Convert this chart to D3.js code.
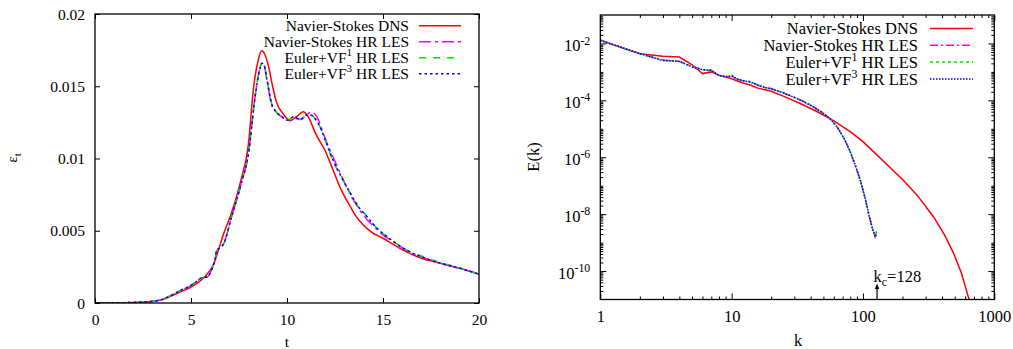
<!DOCTYPE html>
<html>
<head>
<meta charset="utf-8">
<script src="https://cdn.jsdelivr.net/npm/d3@7"></script>
<style>
  html, body { margin: 0; padding: 0; background: #fff; }
  svg { display: block; }
</style>
</head>
<body>
<script>
// ---------- dissipation rate vs time ----------
const tTicks = [0, 5, 10, 15, 20];
const epsTicks = [0, 0.005, 0.01, 0.015, 0.02];

const tDNS = [0, 1, 2, 3, 3.6, 4, 4.5, 5, 5.7, 6.15, 6.7, 7.1, 7.6, 8.0, 8.25, 8.5, 8.68, 8.85, 9.05, 9.25, 9.45, 9.8, 10.15, 10.5, 10.85, 11.1, 11.5, 12.0, 12.4, 12.8, 13.3, 13.6, 13.9, 14.4, 15.0, 15.6, 16.2, 17.0, 18.0, 19.0, 20.0];
const epsDNS = [0, 0.00001, 0.00003, 0.0001, 0.00027, 0.0005, 0.0008, 0.0011, 0.0018, 0.0026, 0.0048, 0.0062, 0.0085, 0.0111, 0.0148, 0.0168, 0.01745, 0.0172, 0.0163, 0.0150, 0.0139, 0.0131, 0.01262, 0.0129, 0.01324, 0.0129, 0.0117, 0.0105, 0.0092, 0.0079, 0.00667, 0.0060, 0.0055, 0.0049, 0.00448, 0.0040, 0.00355, 0.0031, 0.00275, 0.0024, 0.00198];

const tLES = [0, 1, 2, 3, 3.6, 4, 4.5, 4.9, 5.2, 5.55, 5.85, 6.1, 6.25, 6.35, 6.5, 6.7, 7.1, 7.6, 8.0, 8.33, 8.55, 8.7, 8.82, 8.95, 9.2, 9.45, 9.72, 10.05, 10.35, 10.7, 11.0, 11.25, 11.5, 11.72, 11.9, 12.4, 12.8, 13.3, 13.7, 14.15, 14.6, 15.0, 15.6, 16.2, 17.0, 18.0, 19.0, 20.0];
const epsNSLES = [0, 0.00001, 0.00004, 0.00012, 0.0003, 0.00055, 0.0009, 0.00112, 0.0014, 0.00172, 0.0018, 0.0024, 0.0030, 0.0036, 0.0038, 0.0041, 0.0059, 0.0082, 0.0104, 0.0142, 0.0160, 0.0166, 0.0164, 0.0155, 0.0137, 0.0132, 0.0129, 0.01265, 0.0128, 0.0127, 0.0130, 0.0132, 0.0130, 0.0124, 0.0117, 0.0101, 0.0089, 0.0075, 0.0066, 0.0058, 0.0052, 0.0047, 0.0042, 0.00365, 0.0032, 0.00275, 0.0024, 0.002];
const epsVF1 = [0, 0.00001, 0.00004, 0.00012, 0.0003, 0.00055, 0.0009, 0.00115, 0.0014, 0.00175, 0.0018, 0.0024, 0.0030, 0.0037, 0.0038, 0.0041, 0.0059, 0.0082, 0.0104, 0.0142, 0.0160, 0.0166, 0.0164, 0.0155, 0.0138, 0.0132, 0.0129, 0.01265, 0.0129, 0.0127, 0.0130, 0.0130, 0.0127, 0.0122, 0.0116, 0.0098, 0.0088, 0.0076, 0.0067, 0.0060, 0.0053, 0.0048, 0.0042, 0.0037, 0.00325, 0.0028, 0.00242, 0.002];
const epsVF3 = [0, 0.00001, 0.00004, 0.00012, 0.0003, 0.00055, 0.0009, 0.00115, 0.0014, 0.00175, 0.0018, 0.0024, 0.0030, 0.0037, 0.0038, 0.0041, 0.0059, 0.0082, 0.0104, 0.0142, 0.0160, 0.0166, 0.0164, 0.0155, 0.0138, 0.0132, 0.0129, 0.01265, 0.0129, 0.0127, 0.0130, 0.0130, 0.0127, 0.0122, 0.0116, 0.0099, 0.0088, 0.0076, 0.0067, 0.0060, 0.0053, 0.0048, 0.0042, 0.00367, 0.0032, 0.00275, 0.0024, 0.002];

// ---------- energy spectrum ----------
const kTicks = [1, 10, 100, 1000];
const eTicks = [1e-10, 1e-8, 1e-6, 1e-4, 1e-2];
const kCut = 128;

const kDNS = [1, 2, 3, 4, 5, 6, 7, 8, 9, 10, 12, 14, 16, 18, 20, 25, 33, 45, 60, 80, 100, 130, 160, 203, 260, 344, 420, 490, 560, 633, 700];
const eDNS = [1.29e-2, 4.37e-3, 3.55e-3, 3.31e-3, 1.78e-3, 8.71e-4, 1.0e-3, 7.59e-4, 6.61e-4, 5.75e-4, 4.17e-4, 3.39e-4, 2.63e-4, 2.34e-4, 2.09e-4, 1.38e-4, 7.94e-5, 3.98e-5, 1.91e-5, 7.94e-6, 3.55e-6, 1.12e-6, 4.47e-7, 1.55e-7, 4.47e-8, 8.13e-9, 1.78e-9, 4.17e-10, 8.91e-11, 1.26e-11, 2.51e-12];

const kLES = [1, 2, 3, 4, 5, 6, 7, 8, 9, 10, 11, 12, 14, 16, 18, 20, 24, 28, 33, 40, 48, 56, 64, 72, 80, 88, 96, 104, 112, 118, 124, 127];
const eNSLES = [1.29e-2, 4.37e-3, 2.6e-3, 2.34e-3, 1.55e-3, 1.20e-3, 1.12e-3, 7.59e-4, 6.9e-4, 6.9e-4, 5.62e-4, 5.01e-4, 4.6e-4, 3.31e-4, 2.82e-4, 2.6e-4, 1.91e-4, 1.45e-4, 1.05e-4, 6.9e-5, 3.98e-5, 2.29e-5, 1.12e-5, 4.47e-6, 1.5e-6, 4.79e-7, 1.41e-7, 3.55e-8, 7.94e-9, 3.16e-9, 1.58e-9, 2.0e-9];
const eVF1 = [1.29e-2, 4.37e-3, 2.51e-3, 2.4e-3, 1.48e-3, 1.20e-3, 1.18e-3, 7.59e-4, 6.61e-4, 7.6e-4, 5.62e-4, 5.01e-4, 4.37e-4, 3.5e-4, 2.82e-4, 2.51e-4, 2.0e-4, 1.45e-4, 1.05e-4, 6.61e-5, 3.98e-5, 2.4e-5, 1.12e-5, 4.47e-6, 1.58e-6, 4.79e-7, 1.45e-7, 3.55e-8, 7.94e-9, 3.16e-9, 1.58e-9, 2.5e-9];
const eVF3 = [1.29e-2, 4.37e-3, 2.51e-3, 2.34e-3, 1.48e-3, 1.20e-3, 1.12e-3, 7.59e-4, 6.61e-4, 7.24e-4, 5.62e-4, 5.01e-4, 4.37e-4, 3.31e-4, 2.82e-4, 2.51e-4, 1.91e-4, 1.45e-4, 1.05e-4, 6.61e-5, 3.98e-5, 2.29e-5, 1.12e-5, 4.47e-6, 1.58e-6, 4.79e-7, 1.41e-7, 3.55e-8, 7.94e-9, 3.16e-9, 1.58e-9, 2.24e-9];

const seriesNames = ["Navier-Stokes DNS", "Navier-Stokes HR LES", "Euler+VF^{1} HR LES", "Euler+VF^{3} HR LES"];
const seriesColors = ["#ff0000", "#ff00ff", "#00e000", "#0000ff"];

const FONT = '"Liberation Serif", "Times New Roman", Times, serif';
const svg = d3.select("body").append("svg").attr("width", 1013).attr("height", 349);
svg.append("rect").attr("width", 1013).attr("height", 349).attr("fill", "#fff");

// Writes a label, turning ^{..} and _{..} into raised / lowered smaller tspans.
function richText(sel, str, size) {
  const parts = str.split(/(\^\{[^}]*\}|_\{[^}]*\})/).filter(p => p.length);
  let shift = 0;
  parts.forEach(p => {
    const ts = sel.append("tspan");
    if (p[0] === "^" || p[0] === "_") {
      const target = p[0] === "^" ? -0.42 * size : 0.25 * size;
      ts.attr("font-size", size * 0.72).attr("dy", target - shift).text(p.slice(2, -1));
      shift = target;
    } else {
      ts.attr("dy", -shift).text(p);
      shift = 0;
    }
  });
}

function styleAxis(g, size) {
  g.attr("font-family", FONT).attr("font-size", size);
  g.select(".domain").remove();
  g.selectAll(".tick line").attr("stroke", "#000").attr("stroke-width", 1);
  g.selectAll(".tick text").attr("fill", "#000");
}

// ================= left panel =================
{
  const fs = 15.5;
  const x = d3.scaleLinear([0, 20], [95, 479]);
  const y = d3.scaleLinear([0, 0.02], [303, 14]);
  const g = svg.append("g");

  g.append("g").attr("transform", "translate(0,303)")
    .call(d3.axisBottom(x).tickValues(tTicks).tickSize(-5).tickFormat(d3.format("d")))
    .call(a => styleAxis(a, fs))
    .call(a => a.selectAll(".tick text").attr("y", 22).attr("dy", null));
  g.append("g").attr("transform", "translate(0,14)")
    .call(d3.axisTop(x).tickValues(tTicks).tickSize(-5).tickFormat(""))
    .call(a => styleAxis(a, fs));
  g.append("g").attr("transform", "translate(95,0)")
    .call(d3.axisLeft(y).tickValues(epsTicks).tickSize(-5).tickFormat(d => d === 0 ? "0" : String(+d.toFixed(3))))
    .call(a => styleAxis(a, fs))
    .call(a => a.selectAll(".tick text").attr("x", -10).attr("dy", "0.33em"));
  g.append("g").attr("transform", "translate(479,0)")
    .call(d3.axisRight(y).tickValues(epsTicks).tickSize(-5).tickFormat(""))
    .call(a => styleAxis(a, fs));

  g.append("clipPath").attr("id", "clipL").append("rect")
    .attr("x", 95).attr("y", 14).attr("width", 384).attr("height", 289);

  const line = d3.line().x(d => x(d[0])).y(d => y(d[1])).curve(d3.curveMonotoneX);
  const sets = [
    [tDNS, epsDNS, null],
    [tLES, epsNSLES, "12,4,3,4"],
    [tLES, epsVF1, "7,7"],
    [tLES, epsVF3, "2.5,3"]
  ];
  const plot = g.append("g").attr("clip-path", "url(#clipL)");
  sets.forEach(([tx, ev, dash], i) => {
    plot.append("path")
      .datum(tx.map((t, j) => [t, ev[j]]))
      .attr("d", line).attr("fill", "none")
      .attr("stroke", seriesColors[i]).attr("stroke-width", 1.5)
      .attr("stroke-dasharray", dash);
  });

  g.append("rect").attr("x", 95).attr("y", 14).attr("width", 384).attr("height", 289)
    .attr("fill", "none").attr("stroke", "#000").attr("stroke-width", 1.3);

  // legend
  seriesNames.forEach((name, i) => {
    const ly = 25.7 + i * 16;
    const t = g.append("text").attr("x", 409).attr("y", ly + 5.3)
      .attr("text-anchor", "end").attr("font-family", FONT).attr("font-size", fs);
    richText(t, name, fs);
    g.append("line").attr("x1", 419).attr("x2", 461).attr("y1", ly).attr("y2", ly)
      .attr("stroke", seriesColors[i]).attr("stroke-width", 1.5)
      .attr("stroke-dasharray", sets[i][2]);
  });

  // axis titles
  g.append("text").attr("x", 287).attr("y", 347).attr("text-anchor", "middle")
    .attr("font-family", FONT).attr("font-size", fs).text("t");
  const yl = g.append("text").attr("transform", "translate(17,158) rotate(-90)")
    .attr("text-anchor", "middle").attr("font-family", FONT).attr("font-size", fs);
  richText(yl, "ε_{t}", fs);
}

// ================= right panel =================
{
  const fs = 16.5;
  const x = d3.scaleLog([1, 1000], [600.3, 994.3]);
  const y = d3.scaleLog([1e-11, 1e-1], [299.5, 15]);
  const g = svg.append("g");

  const kMinor = [];
  [1, 10, 100].forEach(d => { for (let m = 2; m <= 9; m++) kMinor.push(m * d); });
  const eMinor = [];
  for (let p = -11; p <= -2; p++) for (let m = 1; m <= 9; m++) {
    const v = m * Math.pow(10, p);
    if (m === 1 && p % 2 === 0) continue;
    if (v > 1e-11 && v < 1e-1) eMinor.push(v);
  }

  // minor ticks on all four sides
  g.append("g").attr("transform", "translate(0,299.5)")
    .call(d3.axisBottom(x).tickValues(kMinor).tickSize(-3).tickFormat("")).call(a => styleAxis(a, fs));
  g.append("g").attr("transform", "translate(0,15)")
    .call(d3.axisTop(x).tickValues(kMinor).tickSize(-3).tickFormat("")).call(a => styleAxis(a, fs));
  g.append("g").attr("transform", "translate(600.3,0)")
    .call(d3.axisLeft(y).tickValues(eMinor).tickSize(-3).tickFormat("")).call(a => styleAxis(a, fs));
  g.append("g").attr("transform", "translate(994.3,0)")
    .call(d3.axisRight(y).tickValues(eMinor).tickSize(-3).tickFormat("")).call(a => styleAxis(a, fs));

  // major ticks and labels
  g.append("g").attr("transform", "translate(0,299.5)")
    .call(d3.axisBottom(x).tickValues(kTicks).tickSize(-6).tickFormat(d3.format("d")))
    .call(a => styleAxis(a, fs))
    .call(a => a.selectAll(".tick text").attr("y", 22.3).attr("dy", null));
  g.append("g").attr("transform", "translate(0,15)")
    .call(d3.axisTop(x).tickValues(kTicks).tickSize(-6).tickFormat("")).call(a => styleAxis(a, fs));
  g.append("g").attr("transform", "translate(600.3,0)")
    .call(d3.axisLeft(y).tickValues(eTicks).tickSize(-6).tickFormat(""))
    .call(a => styleAxis(a, fs))
    .call(a => a.selectAll(".tick text").attr("x", -10).attr("dy", null).attr("y", 7.5)
      .each(function (d) { richText(d3.select(this), "10^{" + Math.round(Math.log10(d)) + "}", fs); }));
  g.append("g").attr("transform", "translate(994.3,0)")
    .call(d3.axisRight(y).tickValues(eTicks).tickSize(-6).tickFormat("")).call(a => styleAxis(a, fs));

  g.append("clipPath").attr("id", "clipR").append("rect")
    .attr("x", 600.3).attr("y", 15).attr("width", 394).attr("height", 284.5);

  const line = d3.line().x(d => x(d[0])).y(d => y(d[1]));
  const sets = [
    [kDNS, eDNS, null],
    [kLES, eNSLES, "8,3,2,3"],
    [kLES, eVF1, "3,3"],
    [kLES, eVF3, "1.5,1.5"]
  ];
  const plot = g.append("g").attr("clip-path", "url(#clipR)");
  sets.forEach(([kx, ev, dash], i) => {
    plot.append("path")
      .datum(kx.map((k, j) => [k, ev[j]]))
      .attr("d", line).attr("fill", "none")
      .attr("stroke", seriesColors[i]).attr("stroke-width", 1.5)
      .attr("stroke-dasharray", dash);
  });

  g.append("rect").attr("x", 600.3).attr("y", 15).attr("width", 394).attr("height", 284.5)
    .attr("fill", "none").attr("stroke", "#000").attr("stroke-width", 1.3);

  // cutoff wavenumber marker
  const xc = x(kCut);
  g.append("line").attr("x1", xc).attr("x2", xc).attr("y1", 299.5).attr("y2", 287)
    .attr("stroke", "#000").attr("stroke-width", 1.2);
  g.append("path").attr("d", `M${xc},283.5 L${xc - 2.2},289 L${xc + 2.2},289 Z`).attr("fill", "#000");
  const kc = g.append("text").attr("x", xc - 3.5).attr("y", 281.5)
    .attr("font-family", FONT).attr("font-size", fs);
  richText(kc, "k_{c}=" + kCut, fs);

  // legend
  seriesNames.forEach((name, i) => {
    const ly = 28.5 + i * 16.8;
    const t = g.append("text").attr("x", 918).attr("y", ly + 5.8)
      .attr("text-anchor", "end").attr("font-family", FONT).attr("font-size", fs);
    richText(t, name, fs);
    g.append("line").attr("x1", 930).attr("x2", 973).attr("y1", ly).attr("y2", ly)
      .attr("stroke", seriesColors[i]).attr("stroke-width", 1.5)
      .attr("stroke-dasharray", sets[i][2]);
  });

  g.append("text").attr("x", 798).attr("y", 346).attr("text-anchor", "middle")
    .attr("font-family", FONT).attr("font-size", fs).text("k");
  const yl = g.append("text").attr("transform", "translate(539,157) rotate(-90)")
    .attr("text-anchor", "middle").attr("font-family", FONT).attr("font-size", fs);
  richText(yl, "E(k)", fs);
}
</script>
</body>
</html>
